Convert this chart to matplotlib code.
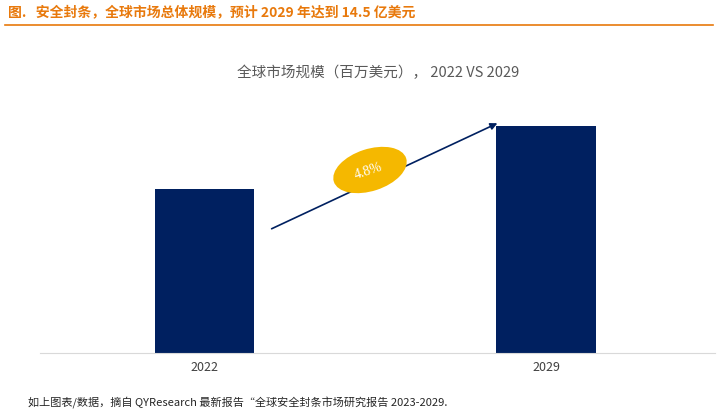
import matplotlib.pyplot as plt
from matplotlib.patches import Ellipse

plt.rcParams['font.family'] = ['Noto Sans CJK SC', 'DejaVu Sans']

jaren = ['2022', '2029']
waarden = [1045, 1450]
cagr_label = '4.8%'

BAR_KLEUR = '#002060'
ORANJE = '#E8790C'

fig = plt.figure(figsize=(7.18, 4.18), dpi=100)
ax = fig.add_axes([40 / 718, 1 - 353 / 418, 675 / 718, 253 / 418])

x = list(range(len(jaren)))
ax.bar(x, waarden, width=0.29, color=BAR_KLEUR)
ax.set_xlim(-0.48, 1.494)
ax.set_ylim(0, 1616)
ax.set_xticks(x)
ax.set_xticklabels(jaren, fontsize=9, color='#404040')
ax.tick_params(axis='x', length=0, pad=6)
ax.set_yticks([])
for s in ['top', 'right', 'left']:
    ax.spines[s].set_visible(False)
ax.spines['bottom'].set_color('#d9d9d9')

# pijl van 2022 naar 2029
ax.annotate('', xy=(0.865, 1475), xytext=(0.19, 786),
            arrowprops=dict(arrowstyle='-|>', color=BAR_KLEUR, lw=1.2, mutation_scale=10))

# CAGR ellips
ell = Ellipse((3.70, 2.48), 0.76, 0.42, angle=18, facecolor='#F5B800',
              edgecolor='none', transform=fig.dpi_scale_trans, zorder=5)
fig.add_artist(ell)
fig.text(3.68 / 7.18, 2.47 / 4.18, cagr_label, color='white', fontsize=10,
         rotation=18, ha='center', va='center', family='Liberation Serif', zorder=6)

fig.text(378 / 718, 1 - 73 / 418, '全球市场规模（百万美元）， 2022 VS 2029',
         ha='center', va='center', fontsize=10.5, color='#595959')

fig.text(8 / 718, 1 - 12 / 418, '图.   安全封条，全球市场总体规模，预计 2029 年达到 14.5 亿美元',
         ha='left', va='center', fontsize=10, color=ORANJE, fontweight='bold')
fig.add_artist(plt.Line2D([5 / 718, 713 / 718], [1 - 25 / 418] * 2, color=ORANJE, lw=1.2))

fig.text(28 / 718, 1 - 403 / 418,
         '如上图表/数据，摘自 QYResearch 最新报告“全球安全封条市场研究报告 2023-2029.',
         ha='left', va='center', fontsize=8, color='#262626', style='italic')

fig.savefig('out.png', dpi=100)
